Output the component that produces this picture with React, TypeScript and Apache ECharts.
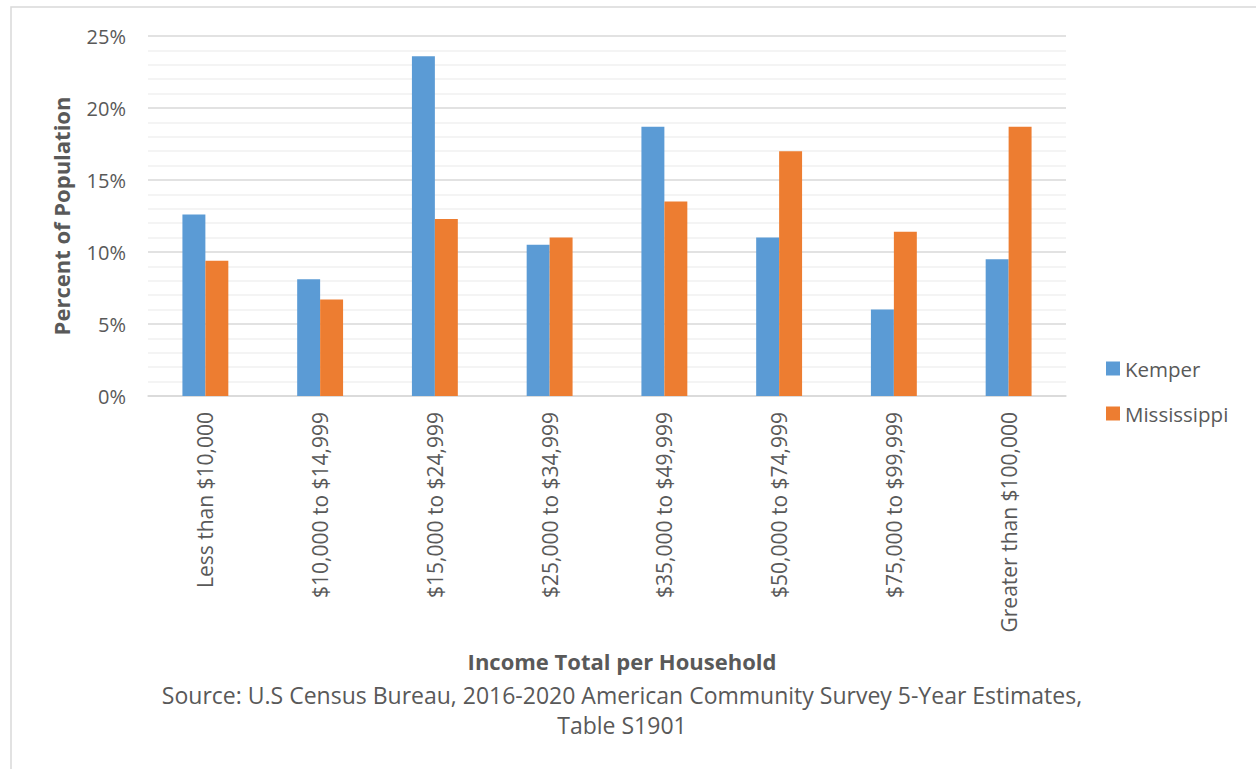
import React, { useEffect, useRef } from "react";
import * as echarts from "echarts";

const categories = [
  "Less than $10,000",
  "$10,000 to $14,999",
  "$15,000 to $24,999",
  "$25,000 to $34,999",
  "$35,000 to $49,999",
  "$50,000 to $74,999",
  "$75,000 to $99,999",
  "Greater than $100,000",
];
const kemper = [12.6, 8.1, 23.6, 10.5, 18.7, 11.0, 6.0, 9.5];
const mississippi = [9.4, 6.7, 12.3, 11.0, 13.5, 17.0, 11.4, 18.7];
const seriesNames = ["Kemper", "Mississippi"];
const xTitle = "Income Total per Household";
const yTitle = "Percent of Population";
const sourceLines = [
  "Source: U.S Census Bureau, 2016-2020 American Community Survey 5-Year Estimates,",
  "Table S1901",
];

const FONT = "'Open Sans', sans-serif";
const TXT = "#595959";

export default function App() {
  const ref = useRef<HTMLDivElement>(null);
  useEffect(() => {
    const chart = echarts.init(ref.current!, null, { renderer: "svg" });
    chart.setOption({
      animation: false,
      backgroundColor: "#ffffff",
      textStyle: { fontFamily: FONT, color: TXT },
      grid: { left: 148, right: 190, top: 36, bottom: 373 },
      legend: {
        orient: "vertical",
        left: 1101,
        top: 353,
        itemWidth: 14,
        itemHeight: 14,
        itemGap: 24,
        icon: "rect",
        textStyle: { fontFamily: FONT, fontSize: 20.5, color: TXT },
        data: seriesNames,
      },
      xAxis: {
        type: "category",
        data: categories,
        axisLine: { lineStyle: { color: "#d9d9d9", width: 1.5 } },
        axisTick: { show: false },
        axisLabel: {
          rotate: 90,
          margin: 16,
          interval: 0,
          fontFamily: FONT,
          fontSize: 21,
          color: TXT,
        },
      },
      yAxis: {
        type: "value",
        min: 0,
        max: 25,
        interval: 5,
        name: yTitle,
        nameLocation: "middle",
        nameGap: 76,
        nameTextStyle: { fontFamily: FONT, fontSize: 22, fontWeight: "bold", color: TXT },
        axisLine: { show: false },
        axisTick: { show: false },
        axisLabel: {
          margin: 22,
          formatter: (v: number) => v + "%",
          fontFamily: FONT,
          fontSize: 20,
          color: TXT,
        },
        splitLine: { lineStyle: { color: "#d9d9d9", width: 1.5 } },
        minorTick: { show: false, splitNumber: 5 },
        minorSplitLine: { show: true, lineStyle: { color: "#f0f0f0", width: 1.5 } },
      },
      graphic: [
        {
          type: "rect",
          shape: { x: 11, y: 7, width: 1300, height: 800 },
          style: { fill: "none", stroke: "#d9d9d9", lineWidth: 1.5 },
          silent: true,
        },
        {
          type: "text",
          x: 622,
          y: 661,
          style: {
            text: xTitle,
            fontFamily: FONT,
            fontSize: 22,
            fontWeight: "bold",
            fill: TXT,
            align: "center",
            verticalAlign: "middle",
          },
        },
        {
          type: "text",
          x: 622,
          y: 695,
          style: {
            text: sourceLines[0],
            fontFamily: FONT,
            fontSize: 23,
            fill: TXT,
            align: "center",
            verticalAlign: "middle",
          },
        },
        {
          type: "text",
          x: 622,
          y: 725,
          style: {
            text: sourceLines[1],
            fontFamily: FONT,
            fontSize: 23,
            fill: TXT,
            align: "center",
            verticalAlign: "middle",
          },
        },
      ],
      series: [
        {
          name: seriesNames[0],
          type: "bar",
          data: kemper,
          itemStyle: { color: "#5B9BD5" },
          barGap: "0%",
          barCategoryGap: "60%",
        },
        {
          name: seriesNames[1],
          type: "bar",
          data: mississippi,
          itemStyle: { color: "#ED7D31" },
          barGap: "0%",
          barCategoryGap: "60%",
        },
      ],
    });
    return () => chart.dispose();
  }, []);
  return (
    <div
      ref={ref}
      style={{ position: "fixed", left: 0, top: 0, width: 1256, height: 769 }}
    />
  );
}
